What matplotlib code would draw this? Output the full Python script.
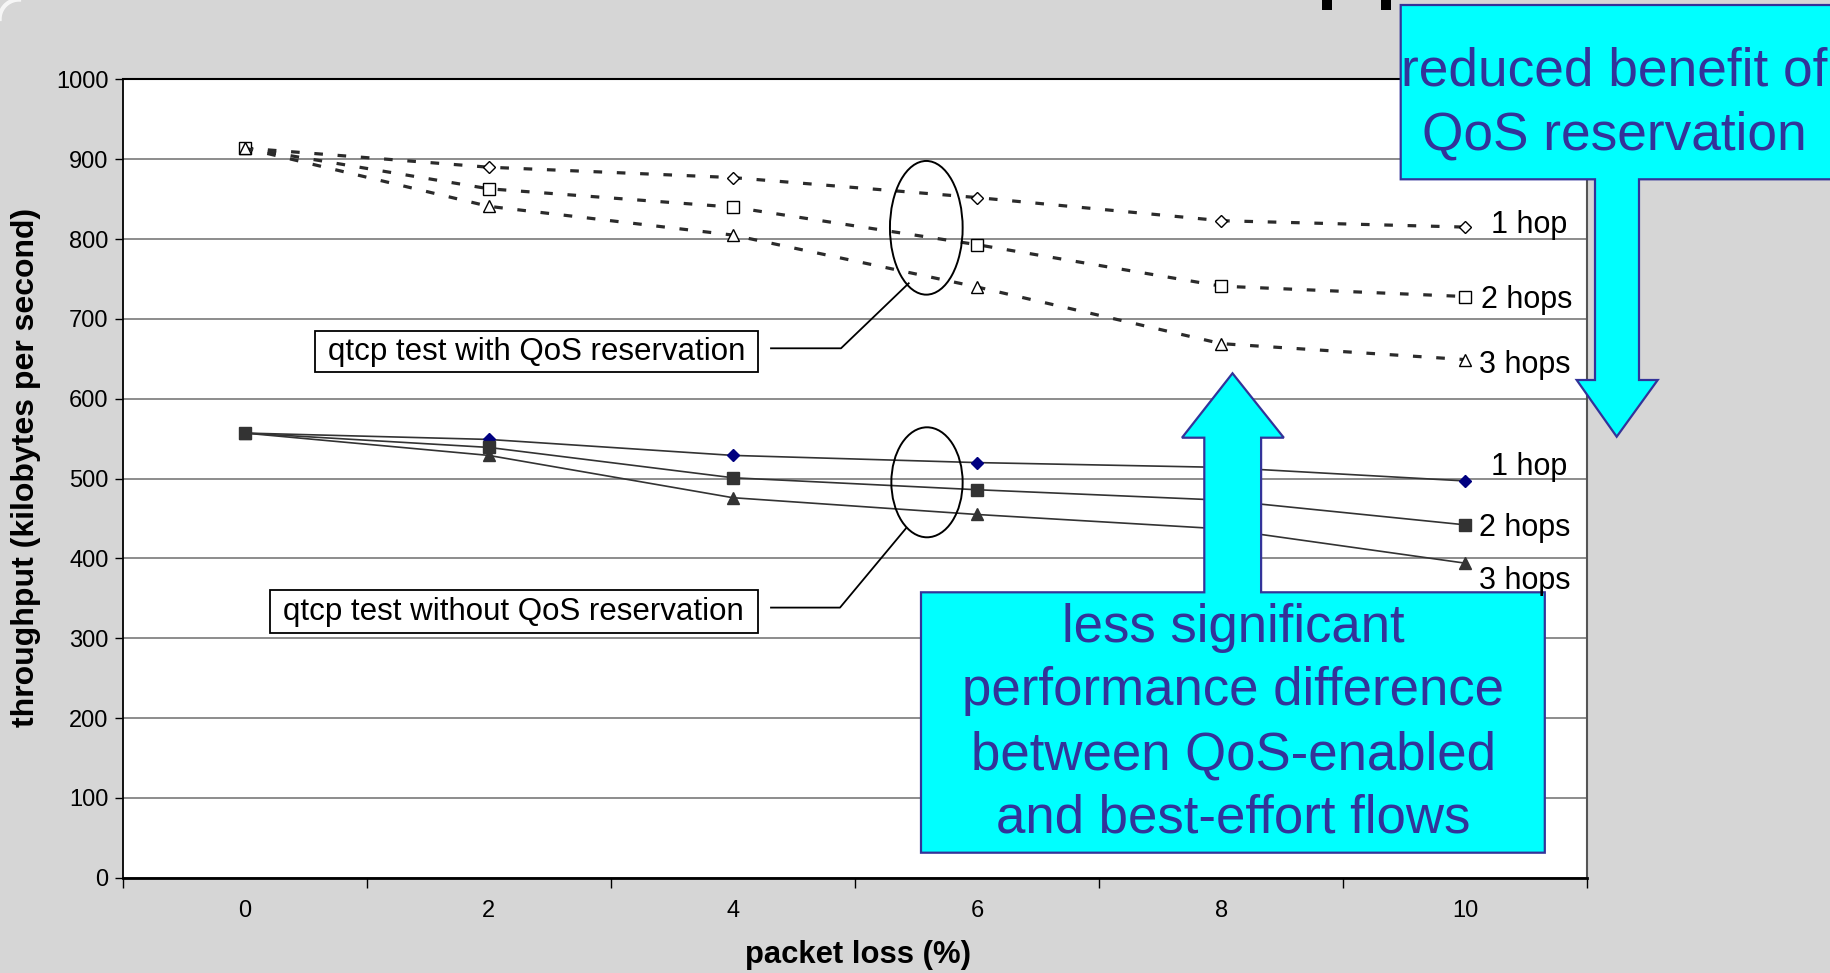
import numpy as np
import matplotlib
matplotlib.use("Agg")
from matplotlib import pyplot as plt
from matplotlib.patches import Polygon, Rectangle, Ellipse
from matplotlib.lines import Line2D
from matplotlib.transforms import Affine2D

plt.rcParams['font.family'] = ['Liberation Sans', 'DejaVu Sans']

# packet loss (%) and throughput (kilobytes per second)
loss = [0, 2, 4, 6, 8, 10]
qos_1hop = [914, 890, 877, 852, 823, 815]
qos_2hops = [914, 863, 840, 793, 741, 728]
qos_3hops = [914, 841, 805, 740, 669, 649]
noqos_1hop = [557, 549, 529, 520, 514, 497]
noqos_2hops = [557, 539, 501, 486, 473, 442]
noqos_3hops = [557, 529, 476, 455, 437, 394]

yticks = list(range(0, 1001, 100))

W, H = 1830, 973
bg = '#d6d6d6'
cyan = '#00ffff'
purple = '#333399'
dark = '#333333'

fig = plt.figure(figsize=(W / 100, H / 100), dpi=100, facecolor=bg)
# pixel coords with origin top-left
px = Affine2D().scale(1 / W, -1 / H).translate(0, 1) + fig.transFigure

ax = fig.add_axes([122.5 / W, 1 - 877.7 / H, (1587.3 - 122.5) / W, (877.7 - 79.4) / H])
ax.set_facecolor('white')

dot = (0, (2.7, 4.6))
for ys, m, ms in [(qos_1hop, 'D', 6), (qos_2hops, 's', 8), (qos_3hops, '^', 8)]:
    ax.plot(loss, ys, color='#2b2b2b', lw=2.3, ls=dot, dash_capstyle='butt', marker=m,
            ms=ms, mfc='white', mec='black', mew=1.0, zorder=3)

ax.plot(loss, noqos_1hop, color=dark, lw=1.2, marker='D', ms=5.8,
        mfc='#000080', mec='#000080', zorder=3)
ax.plot(loss, noqos_2hops, color=dark, lw=1.2, marker='s', ms=8,
        mfc=dark, mec=dark, zorder=3)
ax.plot(loss, noqos_3hops, color=dark, lw=1.2, marker='^', ms=8,
        mfc=dark, mec=dark, zorder=3)

ax.set_xlim(-1, 11)
ax.set_ylim(0, 1000)
ax.set_yticks(yticks)
ax.set_xticks(loss)
ax.set_xticks(range(-1, 12, 2), minor=True)
ax.yaxis.grid(True, color='#6e6e6e', lw=1.1)
ax.set_axisbelow(True)
ax.tick_params(axis='y', labelsize=17, length=6, width=1, pad=4, color='black')
ax.tick_params(axis='x', which='major', labelsize=17, length=0, pad=16)
ax.tick_params(axis='x', which='minor', length=7, width=1, color='black')
ax.spines['left'].set_color('black')
ax.spines['left'].set_linewidth(1.3)
ax.spines['bottom'].set_color('black')
ax.spines['bottom'].set_linewidth(2.0)
ax.spines['top'].set_color('black')
ax.spines['top'].set_linewidth(1.5)
ax.spines['right'].set_color('#555555')
ax.spines['right'].set_linewidth(1.5)

fig.text(25.7 / W, 1 - 467 / H, 'throughput (kilobytes per second)', rotation=90,
         ha='center', va='center', fontsize=23, fontweight='bold')
fig.text(858 / W, 1 - 955 / H, 'packet loss (%)', ha='center', va='center',
         fontsize=22.3, fontweight='bold')

# hop labels
for x, y, s in [(1491, 232.7, '1 hop'), (1481, 308, '2 hops'), (1479, 373, '3 hops'),
                (1491, 475, '1 hop'), (1479, 536, '2 hops'), (1479, 589, '3 hops')]:
    fig.text(x / W, 1 - y / H, s, ha='left', va='baseline', fontsize=22)

# ellipses and leader lines
for cx, cy, w, h in [(926.3, 227.8, 72.7, 133.7), (927, 482.3, 71.3, 110)]:
    fig.add_artist(Ellipse((cx, cy), w, h, transform=px, fill=False, ec='black', lw=1.4))
for xs, ys in [([771, 841, 908.7], [348.3, 348.3, 283.3]),
               ([771, 840, 906], [607.6, 607.6, 528.3])]:
    fig.add_artist(Line2D(xs, ys, transform=px, color='black', lw=1.3))

# text boxes
for x0, y0, x1, y1, s in [(315, 331, 757.7, 371.7, 'qtcp test with QoS reservation'),
                          (269.8, 590.4, 757.7, 632.5, 'qtcp test without QoS reservation')]:
    fig.add_artist(Rectangle((x0, y0), x1 - x0, y1 - y0, transform=px,
                             fc='white', ec='black', lw=1.3))
    fig.text((x0 + x1) / 2 / W, 1 - ((y0 + y1) / 2 + 1) / H, s, ha='center', va='center',
             fontsize=22.5)

# cyan callouts
up = [(921, 852.7), (1544.8, 852.7), (1544.8, 592.3), (1261.1, 592.3), (1261.1, 437.7),
      (1283.8, 437.7), (1232.5, 373.3), (1182, 437.7), (1204.3, 437.7), (1204.3, 592.3),
      (921, 592.3)]
fig.add_artist(Polygon(up, closed=True, transform=px, fc=cyan, ec=purple, lw=1.6))
down = [(1400.7, 5), (1845, 5), (1845, 179.3), (1639, 179.3), (1639, 380), (1657.7, 380),
        (1616.7, 436.7), (1576.7, 380), (1595, 380), (1595, 179.3), (1400.7, 179.3)]
fig.add_artist(Polygon(down, closed=True, transform=px, fc=cyan, ec=purple, lw=1.6))

for i, s in enumerate(['less significant', 'performance difference',
                       'between QoS-enabled', 'and best-effort flows']):
    fig.text(1233.5 / W, 1 - (641.7 + 63.7 * i) / H, s, ha='center', va='baseline',
             fontsize=38, color=purple)
for i, s in enumerate(['reduced benefit of', 'QoS reservation']):
    fig.text(1614 / W, 1 - (85 + 65 * i) / H, s, ha='center', va='baseline',
             fontsize=38.3, color=purple)

# slide decoration: descenders of the cut-off slide title, corner glare
for x0 in (1322, 1381):
    fig.add_artist(Rectangle((x0, 0), 9.5, 10, transform=px, fc='black', ec='none'))
t = np.linspace(np.pi * 1.0, np.pi * 1.5, 40)
fig.add_artist(Line2D(19 + 19.4 * np.cos(t), 19 + 19.4 * np.sin(t), transform=px,
                      color='white', lw=3, alpha=0.8))

fig.savefig('out.png', dpi=100, facecolor=bg)
